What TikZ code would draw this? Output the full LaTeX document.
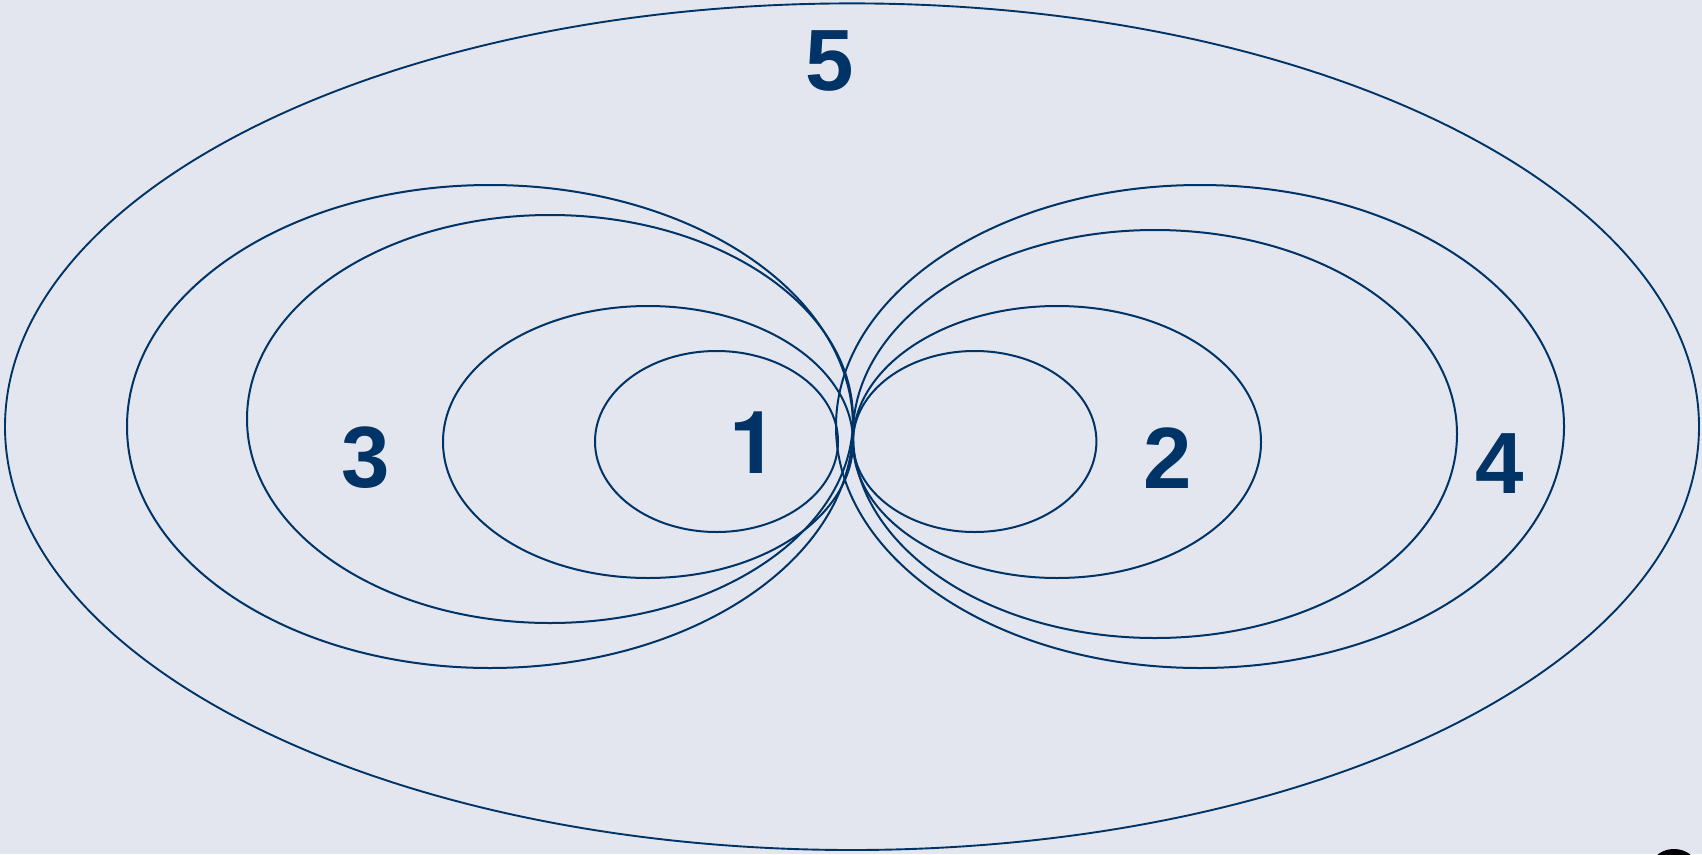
\documentclass[tikz,border=0pt]{standalone}
\usepackage{fontspec}
\setmainfont{Liberation Sans}
\newfontfamily\heros{TeX Gyre Heros}
\definecolor{bgc}{RGB}{227,230,239}
\definecolor{navy}{RGB}{0,51,102}
\begin{document}
\begin{tikzpicture}[x=1pt,y=-1pt,
  loop/.style={draw=navy,line width=2pt},
  lbl/.style={text=navy,font=\fontsize{87}{87}\selectfont\bfseries,inner sep=0pt,anchor=center}]
\fill[bgc] (0,0) rectangle (1702,854);
\useasboundingbox (0,0) rectangle (1702,854);
\clip (0,0) rectangle (1702,854);
% outer
\draw[loop,line width=1.9pt] (852,426.7) ellipse [x radius=847pt, y radius=423.3pt];
% left family
\draw[loop] (490,426.5) ellipse [x radius=363pt, y radius=241.5pt];
\draw[loop] (550,419) ellipse [x radius=303pt, y radius=204pt];
\draw[loop] (648,442) ellipse [x radius=205pt, y radius=136pt];
\draw[loop] (716.5,441.5) ellipse [x radius=121.5pt, y radius=90.5pt];
% right family
\draw[loop] (1200,426.5) ellipse [x radius=364pt, y radius=241.5pt];
\draw[loop] (1155,434) ellipse [x radius=302pt, y radius=204pt];
\draw[loop] (1057,442) ellipse [x radius=204pt, y radius=136pt];
\draw[loop] (974.7,441.5) ellipse [x radius=121.7pt, y radius=90.5pt];
% labels
\node[lbl] (n5) at (830,61) {5};
\node[lbl,font=\fontsize{87}{87}\selectfont\heros\bfseries] (n1) at (754,442.5) {1};
\node[lbl] (n3) at (366,458) {3};
\node[lbl] (n2) at (1167.5,458) {2};
\node[lbl] (n4) at (1500,464) {4};
% partial logo at bottom-right corner
\fill[black] (1674,866) ellipse [x radius=22pt, y radius=17pt];
\fill[orange!80!yellow] (1674,866) ellipse [x radius=12pt, y radius=10pt];
\end{tikzpicture}
\end{document}
